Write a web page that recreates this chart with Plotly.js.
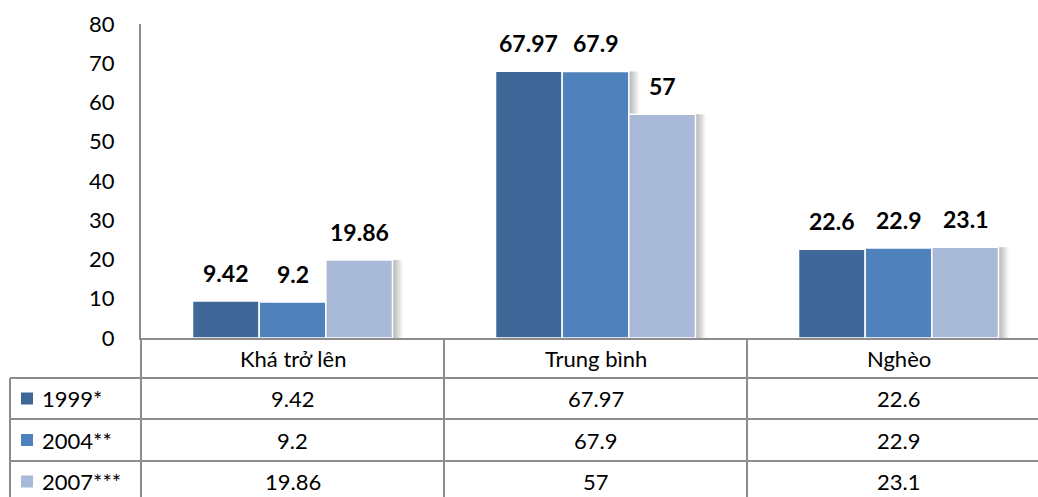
<!DOCTYPE html>
<html>
<head>
<meta charset="utf-8">
<script src="https://cdn.plot.ly/plotly-3.0.1.min.js"></script>
<style>
  html, body { margin: 0; padding: 0; background: #ffffff; }
  #chart { width: 1038px; height: 497px; }
</style>
</head>
<body>
<div id="chart"></div>
<script>
// Living-standard groups and their shares (%) by survey year
const categories = ['Khá trở lên', 'Trung bình', 'Nghèo'];
const seriesNames = ['1999*', '2004**', '2007***'];
const values1999 = [9.42, 67.97, 22.6];
const values2004 = [9.2, 67.9, 22.9];
const values2007 = [19.86, 57, 23.1];
const yTickValues = [0, 10, 20, 30, 40, 50, 60, 70, 80];

const seriesValues = [values1999, values2004, values2007];
const seriesColors = ['#3F6797', '#4F81BD', '#A9B9D8'];

// Layout geometry (pixels)
const W = 1038, H = 497;
const M = { l: 141, r: 0, t: 24, b: 159 };
const plotW = W - M.l - M.r;            // 897
const plotH = H - M.t - M.b;            // 314
const catPx = 303;                       // width of one category slot
const xMax = -0.5 + plotW / catPx;
const px2x = p => (p - M.l) / plotW;    // page x -> paper x
const px2y = p => (H - M.b - p) / plotH; // page y -> paper y

const barW = 0.22;
const offsets = [-0.33, -0.11, 0.11];
const xIdx = categories.map((_, i) => i);

const FONT = 'Lato, "Open Sans", "Noto Sans", sans-serif';
const GRID = '#8C8C8C';

const traces = [];

// soft drop shadow on the right of every bar, built from thin translucent layers
[1, 2, 3, 4, 5, 6, 7, 8, 9, 10].forEach(d => {
  seriesValues.forEach((vals, k) => {
    traces.push({
      type: 'bar', x: xIdx, y: vals,
      width: barW, offset: offsets[k] + d / catPx,
      marker: { color: 'rgba(70,70,70,0.045)', line: { width: 0 } },
      hoverinfo: 'skip', showlegend: false
    });
  });
});

seriesValues.forEach((vals, k) => {
  traces.push({
    type: 'bar', name: seriesNames[k], x: xIdx, y: vals,
    width: barW, offset: offsets[k],
    marker: { color: seriesColors[k], line: { color: '#ffffff', width: 1.5 } },
    showlegend: false
  });
});

const annotations = [];
const shapes = [];

// value labels above the bars
seriesValues.forEach((vals, k) => {
  vals.forEach((v, i) => {
    annotations.push({
      x: i + offsets[k] + barW / 2, y: v, xref: 'x', yref: 'y',
      text: '<b>' + v + '</b>', showarrow: false,
      xanchor: 'center', yanchor: 'bottom', yshift: 12,
      font: { family: FONT, size: 23, color: '#000000' }
    });
  });
});

// data table under the plot
const headerY = 358, rowLines = [378, 419, 461], rowCenters = [398.5, 440, 481.5];
const tableLeft = 10, tableBottom = 504;
const cellFont = { family: FONT, size: 22, color: '#000000' };

categories.forEach((c, i) => {
  annotations.push({
    x: i, y: px2y(headerY), xref: 'x', yref: 'paper', text: c,
    xanchor: 'center', yanchor: 'middle', showarrow: false, font: cellFont
  });
});

seriesValues.forEach((vals, k) => {
  vals.forEach((v, i) => {
    annotations.push({
      x: i, y: px2y(rowCenters[k]), xref: 'x', yref: 'paper', text: String(v),
      xanchor: 'center', yanchor: 'middle', showarrow: false, font: cellFont
    });
  });
  // legend key + series name
  shapes.push({
    type: 'rect', xref: 'paper', yref: 'paper',
    x0: px2x(21), x1: px2x(33),
    y0: px2y(rowCenters[k] + 6), y1: px2y(rowCenters[k] - 6),
    fillcolor: seriesColors[k], line: { width: 0 }
  });
  annotations.push({
    x: px2x(40), y: px2y(rowCenters[k]), xref: 'paper', yref: 'paper',
    xanchor: 'left', yanchor: 'middle', text: seriesNames[k], showarrow: false,
    font: cellFont
  });
});

const line = { color: GRID, width: 2 };
rowLines.forEach(p => {
  shapes.push({ type: 'line', xref: 'paper', yref: 'paper',
    x0: px2x(tableLeft), x1: 1, y0: px2y(p), y1: px2y(p), line });
});
shapes.push({ type: 'line', xref: 'paper', yref: 'paper',
  x0: px2x(tableLeft), x1: px2x(tableLeft), y0: px2y(rowLines[0]), y1: px2y(tableBottom), line });
shapes.push({ type: 'line', xref: 'paper', yref: 'paper',
  x0: 0, x1: 0, y0: 0, y1: px2y(tableBottom), line });
[0.5, 1.5].forEach(xb => {
  shapes.push({ type: 'line', xref: 'x', yref: 'paper',
    x0: xb, x1: xb, y0: 0, y1: px2y(tableBottom), line });
});

const layout = {
  width: W, height: H,
  margin: M,
  paper_bgcolor: '#ffffff', plot_bgcolor: '#ffffff',
  barmode: 'overlay',
  showlegend: false,
  font: { family: FONT, color: '#000000' },
  xaxis: {
    range: [-0.5, xMax], showticklabels: false, ticks: '',
    showgrid: false, zeroline: false,
    showline: true, linecolor: GRID, linewidth: 2, fixedrange: true
  },
  yaxis: {
    range: [0, 80], tickvals: yTickValues, ticktext: yTickValues.map(String),
    ticks: '', ticklabelstandoff: 20,
    tickfont: { family: FONT, size: 22, color: '#000000' },
    showgrid: false, zeroline: false,
    showline: true, linecolor: GRID, linewidth: 2, fixedrange: true
  },
  annotations, shapes
};

Plotly.newPlot('chart', traces, layout, { displayModeBar: false, staticPlot: true });
</script>
</body>
</html>
